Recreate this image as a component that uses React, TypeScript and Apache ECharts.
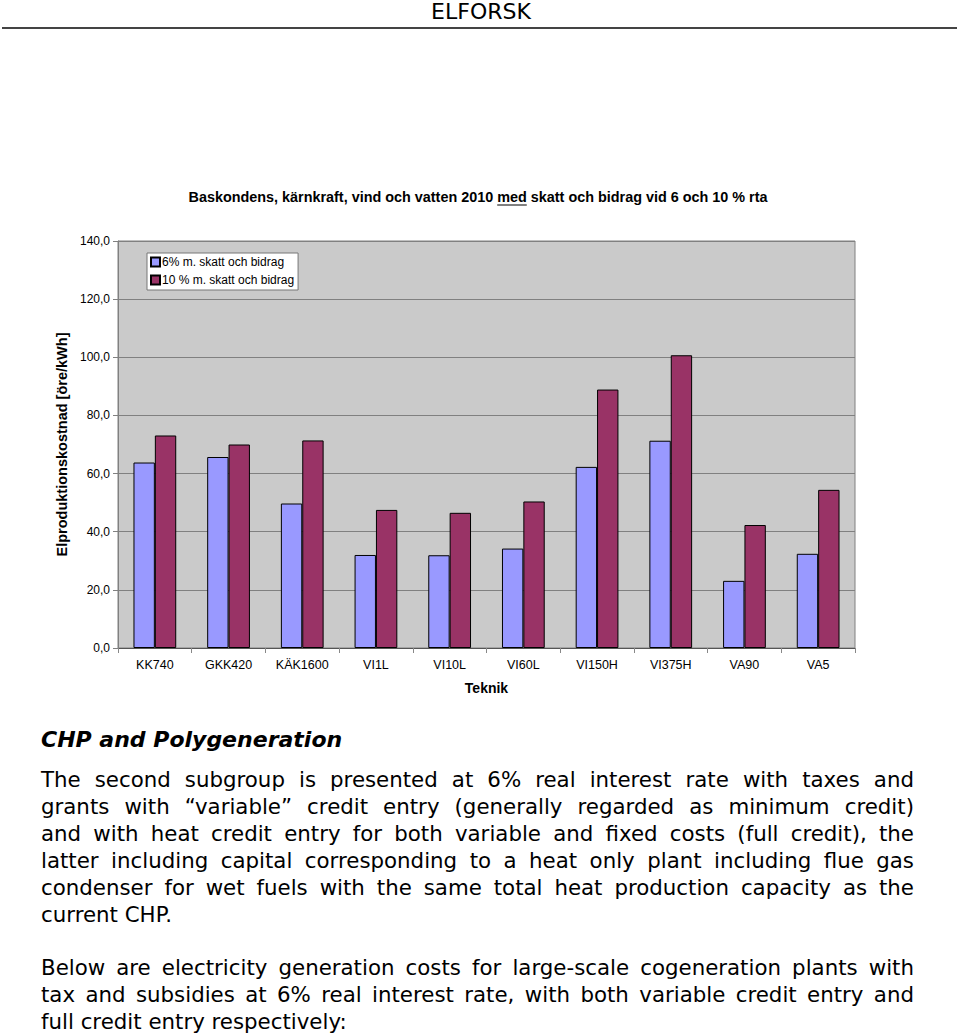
import React, { useEffect, useRef } from "react";
import * as echarts from "echarts";

const categories = ["KK740", "GKK420", "KÄK1600", "VI1L", "VI10L", "VI60L", "VI150H", "VI375H", "VA90", "VA5"];
const seriesNames = ["6% m. skatt och bidrag", "10 % m. skatt och bidrag"];
const values6 = [63.8, 65.7, 49.7, 32.0, 31.9, 34.2, 62.3, 71.3, 23.1, 32.4];
const values10 = [73.1, 70.0, 71.4, 47.5, 46.5, 50.4, 88.9, 100.7, 42.3, 54.4];
const yMin = 0;
const yMax = 140;
const yStep = 20;

const headerText = "ELFORSK";
const titleParts = ["Baskondens, kärnkraft, vind och vatten 2010 ", "med", " skatt och bidrag vid 6 och 10 % rta"];
const xAxisName = "Teknik";
const yAxisName = "Elproduktionskostnad [öre/kWh]";
const heading = "CHP and Polygeneration";
const para1 = [
  "The second subgroup is presented at 6% real interest rate with taxes and",
  "grants with “variable” credit entry (generally regarded as minimum credit)",
  "and with heat credit entry for both variable and fixed costs (full credit), the",
  "latter including capital corresponding to a heat only plant including flue gas",
  "condenser for wet fuels with the same total heat production capacity as the",
  "current CHP.",
];
const para2 = [
  "Below are electricity generation costs for large-scale cogeneration plants with",
  "tax and subsidies at 6% real interest rate, with both variable credit entry and",
  "full credit entry respectively:",
];

export default function App() {
  const ref = useRef<HTMLDivElement>(null);

  useEffect(() => {
    if (!ref.current) return;
    const chart = echarts.init(ref.current, null, { renderer: "svg" });
    const canvas = document.createElement("canvas");
    const ctx = canvas.getContext("2d")!;
    const measure = (t: string, font: string) => {
      ctx.font = font;
      return ctx.measureText(t).width;
    };

    const bodyFamily = "'DejaVu Sans'";
    const sx = 0.97;
    const bodyFont = `22px ${bodyFamily}`;

    const graphics: any[] = [];
    // header
    graphics.push({
      type: "text",
      x: 481,
      y: 11,
      style: { text: headerText, font: "22px 'DejaVu Sans'", fill: "#000", textAlign: "center", textVerticalAlign: "middle" },
    });
    graphics.push({
      type: "line",
      shape: { x1: 2, y1: 28, x2: 957, y2: 28 },
      style: { stroke: "#444", lineWidth: 2 },
    });

    // chart title with underline on "med"
    const titleFont = "bold 14.4px 'Liberation Sans'";
    const fullTitle = titleParts.join("");
    const tw = measure(fullTitle, titleFont);
    const tx0 = 478 - tw / 2;
    graphics.push({
      type: "text",
      x: tx0,
      y: 197,
      style: { text: fullTitle, font: titleFont, fill: "#000", textAlign: "left", textVerticalAlign: "middle" },
    });
    const ux1 = tx0 + measure(titleParts[0], titleFont);
    const ux2 = ux1 + measure(titleParts[1], titleFont);
    graphics.push({
      type: "line",
      shape: { x1: ux1, y1: 205, x2: ux2, y2: 205 },
      style: { stroke: "#000", lineWidth: 1 },
    });

    // heading
    graphics.push({
      type: "text",
      x: 41,
      y: 739,
      style: { text: heading, font: `italic bold 22px ${bodyFamily}`, fill: "#000", textAlign: "left", textVerticalAlign: "middle" },
    });

    const left = 41;
    const right = 914;
    const addPara = (lines: string[], y0: number) => {
      lines.forEach((line, i) => {
        const y = y0 + i * 27;
        const last = i === lines.length - 1;
        if (last) {
          graphics.push({
            type: "text",
            x: left,
            y,
            scaleX: sx,
            style: { text: line, font: bodyFont, fill: "#000", textAlign: "left", textVerticalAlign: "middle" },
          });
          return;
        }
        const words = line.split(" ");
        const widths = words.map((w) => measure(w, bodyFont) * sx);
        const total = widths.reduce((a, b) => a + b, 0);
        const gap = (right - left - total) / (words.length - 1);
        let x = left;
        words.forEach((w, k) => {
          graphics.push({
            type: "text",
            x,
            y,
            scaleX: sx,
            style: { text: w, font: bodyFont, fill: "#000", textAlign: "left", textVerticalAlign: "middle" },
          });
          x += widths[k] + gap;
        });
      });
    };
    addPara(para1, 779);
    addPara(para2, 967);

    const axisFont = "'Liberation Sans'";
    chart.setOption({
      animation: false,
      backgroundColor: "#fff",
      grid: {
        left: 118,
        top: 241,
        width: 737,
        height: 407,
        show: true,
        backgroundColor: "#CACACA",
        borderColor: "#808080",
        borderWidth: 1,
        containLabel: false,
      },
      legend: {
        left: 147,
        top: 253,
        orient: "vertical",
        itemWidth: 9,
        itemHeight: 9,
        itemGap: 6,
        padding: [3, 4, 4, 3],
        backgroundColor: "#fff",
        borderColor: "#777",
        borderWidth: 1,
        textStyle: { fontFamily: axisFont, fontSize: 12, color: "#000", padding: [0, 0, 0, -3] },
        icon: "rect",
        data: seriesNames,
      },
      xAxis: {
        type: "category",
        data: categories,
        name: xAxisName,
        nameLocation: "middle",
        nameGap: 33,
        nameTextStyle: { fontFamily: axisFont, fontSize: 14, fontWeight: "bold", color: "#000" },
        axisLine: { show: true, lineStyle: { color: "#555", width: 1 } },
        axisTick: { show: true, length: 5, lineStyle: { color: "#888" } },
        axisLabel: { fontFamily: axisFont, fontSize: 12.5, color: "#000", margin: 10 },
        splitLine: { show: false },
      },
      yAxis: {
        type: "value",
        min: yMin,
        max: yMax,
        interval: yStep,
        name: yAxisName,
        nameLocation: "middle",
        nameGap: 45,
        nameTextStyle: { fontFamily: axisFont, fontSize: 14.5, fontWeight: "bold", color: "#000" },
        axisLine: { show: true, lineStyle: { color: "#808080" } },
        axisTick: { show: true, length: 5, lineStyle: { color: "#808080" } },
        axisLabel: {
          fontFamily: axisFont,
          fontSize: 12,
          color: "#000",
          margin: 8,
          formatter: (v: number) => v.toFixed(1).replace(".", ","),
        },
        splitLine: { show: true, lineStyle: { color: "#808080", width: 1 } },
      },
      series: [
        {
          name: seriesNames[0],
          type: "bar",
          data: values6,
          barGap: "0%",
          barCategoryGap: "42%",
          itemStyle: { color: "#9999FF", borderColor: "#000", borderWidth: 1 },
        },
        {
          name: seriesNames[1],
          type: "bar",
          data: values10,
          barGap: "0%",
          barCategoryGap: "42%",
          itemStyle: { color: "#993366", borderColor: "#000", borderWidth: 1 },
        },
      ],
      graphic: graphics,
    });

    return () => chart.dispose();
  }, []);

  return <div ref={ref} style={{ position: "absolute", left: 0, top: 0, width: 960, height: 1036 }} />;
}
